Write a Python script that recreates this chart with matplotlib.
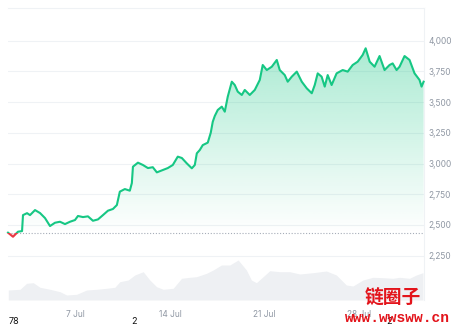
import numpy as np
import matplotlib
matplotlib.use("Agg")
import matplotlib.pyplot as plt
from matplotlib.patches import Rectangle, Polygon

# days since 2 Jul 00:00
price_t = [0.00, 0.37, 0.74, 1.04, 1.11, 1.41, 1.63, 2.00, 2.37, 2.74, 3.11, 3.48,
           3.85, 4.22, 4.59, 4.96, 5.18, 5.55, 5.92, 6.29, 6.66, 7.03, 7.40, 7.77,
           8.06, 8.28, 8.65, 9.02, 9.17, 9.25, 9.62, 9.99, 10.36, 10.72, 11.02, 11.46,
           11.83, 12.20, 12.57, 12.87, 13.24, 13.61, 13.83, 13.98, 14.20, 14.42, 14.79,
           15.01, 15.16, 15.31, 15.53, 15.83, 16.05, 16.27, 16.57, 16.79, 17.01, 17.31,
           17.53, 17.90, 18.27, 18.64, 18.86, 19.16, 19.53, 19.90, 20.12, 20.49, 20.71,
           21.01, 21.38, 21.75, 22.12, 22.49, 22.71, 22.93, 23.22, 23.45, 23.67, 23.96,
           24.33, 24.78, 25.15, 25.52, 25.89, 26.26, 26.48, 26.78, 27.14, 27.51, 27.88,
           28.25, 28.48, 28.77, 28.99, 29.36, 29.73, 30.10, 30.47, 30.62, 30.77]
price = [2437, 2404, 2445, 2450, 2580, 2596, 2580, 2621, 2597, 2556, 2491, 2518,
         2526, 2507, 2526, 2540, 2573, 2564, 2570, 2534, 2545, 2580, 2616, 2630,
         2662, 2771, 2792, 2779, 2841, 2974, 3007, 2988, 2963, 2970, 2928, 2947,
         2963, 2988, 3056, 3045, 3001, 2961, 2988, 3083, 3110, 3150, 3170,
         3250, 3340, 3387, 3436, 3463, 3422, 3544, 3666, 3639, 3585, 3558,
         3599, 3558, 3599, 3680, 3802, 3761, 3788, 3843, 3761, 3720, 3666,
         3707, 3748, 3666, 3612, 3572, 3639, 3734, 3707, 3626, 3720, 3639,
         3734, 3761, 3748, 3802, 3829, 3884, 3938, 3829, 3788, 3875, 3761,
         3802, 3815, 3761, 3788, 3875, 3843, 3734, 3680, 3626, 3666]

vol_t = [0.02, 0.89, 1.38, 1.87, 2.37, 3.11, 3.85, 4.34, 5.08, 5.82, 6.56, 7.30,
         7.91, 8.28, 8.90, 9.39, 10.01, 10.50, 11.00, 11.49, 12.23, 12.85, 13.46,
         13.96, 14.70, 15.19, 15.80, 16.42, 17.04, 17.65, 18.02, 18.39, 18.89, 19.38,
         20.12, 20.86, 21.60, 22.58, 23.57, 24.31, 25.05, 25.54, 26.28, 27.02, 27.76,
         28.50, 28.99, 29.73, 30.23, 30.72]
volume_bn = [10.0, 10.7, 16.7, 17.3, 12.7, 10.7, 8.3, 5.0, 5.7, 10.0, 10.7, 11.7,
             12.7, 18.3, 20.0, 25.0, 28.3, 20.0, 13.3, 10.7, 11.7, 21.7, 22.7,
             23.3, 26.7, 30.0, 35.0, 35.0, 40.0, 30.0, 20.0, 17.3, 23.3, 29.3,
             28.3, 28.3, 26.0, 27.3, 29.0, 25.0, 15.0, 14.0, 20.0, 22.7, 22.3,
             21.7, 22.7, 21.7, 25.0, 27.3]

open_price = 2437
tick_days = [5, 12, 19, 26]
tick_labels = ["7 Jul", "14 Jul", "21 Jul", "28 Jul"]
y_ticks = [2250, 2500, 2750, 3000, 3250, 3500, 3750, 4000]

green = "#16c784"
red = "#ea3943"
grey_txt = "#8f97a3"
x0, x1 = 0, 30.8
y0, y1 = 1889, 4266

fig = plt.figure(figsize=(4.55, 3.28), dpi=100)
ax = fig.add_axes([8 / 455, 28 / 328, 416 / 455, 292 / 328])

# volume underlay
axv = ax.twinx()
axv.fill_between(vol_t, volume_bn, 0, color="#eef0f3", lw=0, zorder=1)
axv.set_ylim(0, 292)
axv.set_xlim(x0, x1)
axv.axis("off")
ax.set_zorder(axv.get_zorder() + 1)
ax.patch.set_visible(False)

ax.set_xlim(x0, x1)
ax.set_ylim(y0, y1)

# gridlines
for v in y_ticks:
    ax.axhline(v, color="#eff2f5", lw=0.8, zorder=0)

# gradient fill under the line
poly_pts = list(zip(price_t, price)) + [(price_t[-1], open_price), (price_t[0], open_price)]
clip = Polygon(poly_pts, closed=True, transform=ax.transData, facecolor="none", edgecolor="none")
ax.add_patch(clip)
grad = np.zeros((256, 1, 4))
grad[:, 0, :3] = matplotlib.colors.to_rgb(green)
grad[:, 0, 3] = np.linspace(0.36, 0.0, 256)
im = ax.imshow(grad, extent=[x0, x1, open_price, 3950], aspect="auto", origin="upper", zorder=2)
im.set_clip_path(clip)

# price line, green above open, red below
lg, = ax.plot(price_t, price, color=green, lw=1.5, zorder=4, solid_joinstyle="round")
lg.set_clip_path(Rectangle((x0 - 1, open_price), 40, 5000, transform=ax.transData))
lr, = ax.plot(price_t, price, color=red, lw=1.5, zorder=4, solid_joinstyle="round")
lr.set_clip_path(Rectangle((x0 - 1, open_price - 2000), 40, 2000, transform=ax.transData))
ax.fill_between(price_t, price, open_price, where=[p < open_price for p in price],
                interpolate=True, color=red, alpha=0.15, lw=0, zorder=3)

ax.axhline(open_price, color="#a6adb8", lw=0.8, ls=(0, (1, 1.6)), zorder=3)

for s in ["left", "bottom"]:
    ax.spines[s].set_visible(False)
for s in ["top", "right"]:
    ax.spines[s].set_color("#eff2f5")
    ax.spines[s].set_linewidth(0.8)

ax.yaxis.tick_right()
ax.set_yticks(y_ticks)
ax.set_yticklabels([f"{v:,}" for v in y_ticks])
ax.set_xticks(tick_days)
ax.set_xticklabels(tick_labels)
ax.tick_params(axis="both", length=0, labelsize=6, labelcolor=grey_txt)
ax.tick_params(axis="y", pad=3)
ax.tick_params(axis="x", pad=7)
for lab in ax.get_xticklabels() + ax.get_yticklabels():
    lab.set_family("Inter")

# stray numbers along the bottom
for xp, s in [(9, "78"), (131, "2"), (386, "2")]:
    fig.text(xp / 455, 1 - 322 / 328, s, fontsize=6.5, color="#111111",
             ha="left", va="center", family="Inter")

# watermark
fig.text(393 / 455, 1 - 298 / 328, "链圈子", fontsize=13.5, color="#e3141b",
         ha="center", va="center", family=["Noto Sans CJK SC", "DejaVu Sans"],
         fontweight="bold")
fig.text(397 / 455, 1 - 318 / 328, "www.wwsww.cn", fontsize=10.5, color="#e3141b",
         ha="center", va="center", family="Liberation Mono", fontweight="bold")

fig.savefig("out.png", dpi=100)
